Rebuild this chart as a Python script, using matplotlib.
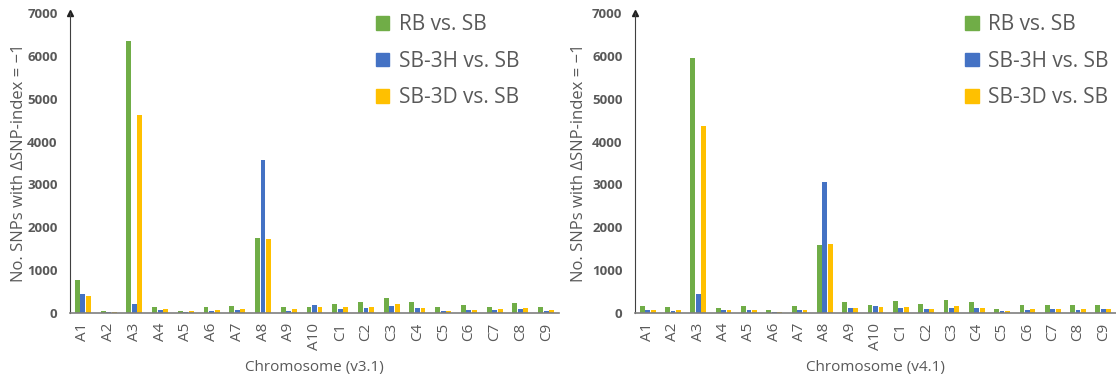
import numpy as np
import matplotlib
matplotlib.use('Agg')
import matplotlib.pyplot as plt
from matplotlib.patches import Patch

plt.rcParams['font.family'] = ['Open Sans', 'DejaVu Sans']

chromosomes = ['A1', 'A2', 'A3', 'A4', 'A5', 'A6', 'A7', 'A8', 'A9', 'A10',
               'C1', 'C2', 'C3', 'C4', 'C5', 'C6', 'C7', 'C8', 'C9']
series_names = ['RB vs. SB', 'SB-3H vs. SB', 'SB-3D vs. SB']

# v3.1 counts
v31_rb = [780, 54, 6340, 132, 54, 132, 163, 1745, 132, 148,
          202, 249, 342, 249, 132, 187, 148, 233, 132]
v31_3h = [450, 23, 210, 70, 23, 54, 70, 3560, 54, 187,
          86, 117, 163, 117, 54, 70, 70, 101, 54]
v31_3d = [405, 15, 4630, 101, 39, 70, 86, 1728, 86, 132,
          148, 132, 218, 117, 54, 70, 101, 117, 70]

# v4.1 counts
v41_rb = [171, 140, 5960, 109, 171, 78, 155, 1580, 256, 178,
          279, 209, 295, 264, 101, 178, 178, 178, 194]
v41_3h = [62, 47, 434, 62, 62, 31, 78, 3055, 109, 163,
          116, 101, 116, 124, 39, 70, 85, 70, 85]
v41_3d = [78, 62, 4362, 78, 78, 31, 62, 1610, 124, 147,
          147, 85, 163, 124, 39, 85, 85, 101, 101]

colors = ['#70AD47', '#4472C4', '#FFC000']
text_col = '#595959'

fig = plt.figure(figsize=(11.16, 3.79), dpi=100)
ax1 = fig.add_axes([70/1116, 1-313/379, 489/1116, 300/379])
ax2 = fig.add_axes([635/1116, 1-313/379, 481/1116, 300/379])

x = np.arange(len(chromosomes))
width = 0.19
offset = 0.215

panels = [(ax1, [v31_rb, v31_3h, v31_3d], 'Chromosome (v3.1)', -0.088),
          (ax2, [v41_rb, v41_3h, v41_3d], 'Chromosome (v4.1)', -0.100)]

for ax, data, xlab, ylab_x in panels:
    for i, vals in enumerate(data):
        ax.bar(x + (i - 1) * offset, vals, width, color=colors[i], label=series_names[i])
    ax.set_xlim(-0.5, len(chromosomes) - 0.5)
    ax.set_ylim(0, 7000)
    ax.set_yticks(range(0, 7001, 1000))
    ax.set_xticks(x)
    ax.set_xticklabels(chromosomes, rotation=90, fontsize=11, color=text_col)
    for lab in ax.get_yticklabels():
        lab.set_fontweight('bold')
        lab.set_color(text_col)
        lab.set_fontsize(9.5)
    ax.tick_params(axis='both', length=0)
    ax.tick_params(axis='y', pad=9)
    ax.tick_params(axis='x', pad=7)
    for s in ['top', 'right']:
        ax.spines[s].set_visible(False)
    ax.spines['left'].set_color('#404040')
    ax.spines['bottom'].set_color('#7f7f7f')
    ax.spines['bottom'].set_linewidth(1.2)
    ax.plot(0, 1, marker='^', color='#202020', markersize=4,
            transform=ax.transAxes, clip_on=False)
    ax.set_ylabel('No. SNPs with \u0394SNP-index = \u22121', fontsize=12, color=text_col)
    ax.yaxis.set_label_coords(ylab_x, 0.5)
    ax.set_xlabel(xlab, fontsize=11, color=text_col)
    ax.xaxis.set_label_coords(0.5, -0.157)

handles = [Patch(color=c) for c in colors]
ax1.legend(handles, series_names, loc='upper left', bbox_to_anchor=(0.625, 0.996),
           frameon=False, fontsize=15, handlelength=0.65, handleheight=0.65,
           handletextpad=0.45, labelspacing=0.75, borderpad=0, borderaxespad=0,
           labelcolor=text_col)
ax2.legend(handles, series_names, loc='upper left', bbox_to_anchor=(0.686, 0.996),
           frameon=False, fontsize=15, handlelength=0.65, handleheight=0.65,
           handletextpad=0.45, labelspacing=0.75, borderpad=0, borderaxespad=0,
           labelcolor=text_col)

fig.savefig('out.png', dpi=100)
